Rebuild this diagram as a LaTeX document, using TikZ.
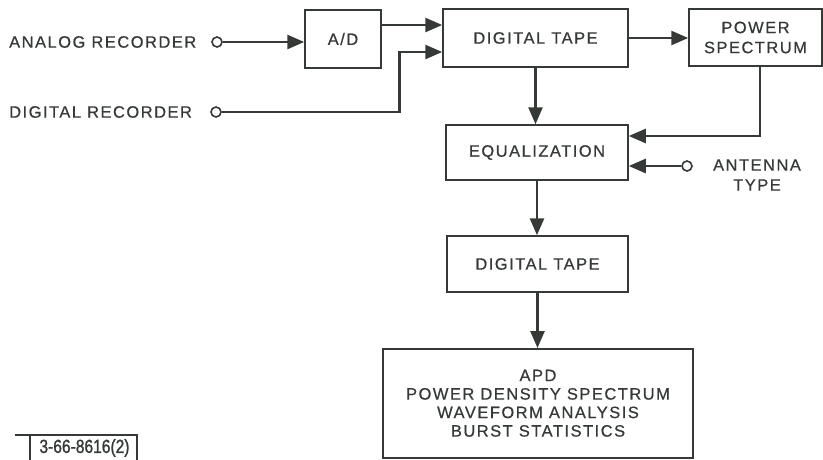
\documentclass[tikz,border=0pt]{standalone}
\usepackage{fontspec}
\setmainfont{Liberation Sans}[LetterSpace=9, FakeBold=0.6]
\newfontfamily\tagfont{Liberation Sans}[FakeStretch=0.82, FakeBold=1.2]
\usetikzlibrary{arrows.meta}
\definecolor{ink}{HTML}{353a36}
\begin{document}
\begin{tikzpicture}[x=1pt,y=-1pt,
  every node/.style={text=ink, font=\fontsize{16.5}{20}\selectfont},
  blk/.style={draw=ink, line width=1.5pt, minimum width=#1, inner sep=0pt, align=center},
  wire/.style={draw=ink, line width=2.6pt},
  arr/.style={wire, -{Triangle[length=17pt,width=14pt]}},
  term/.style={circle, draw=ink, line width=1.6pt, fill=white, minimum size=10pt, inner sep=0pt},
  lbl/.style={anchor=west, inner sep=0pt}]
\useasboundingbox (0,0) rectangle (823,459);

% blocks
\node[blk=76pt, minimum height=58pt]  (ad)  at (343,39)    {A/D};
\node[blk=185pt, minimum height=58pt] (dt1) at (535.5,38)  {DIGITAL TAPE};
\node[blk=133pt, minimum height=57pt] (ps)  at (755.5,37.5){POWER\\SPECTRUM};
\node[blk=310pt, minimum height=109pt, anchor=north,
      font=\fontsize{16.5}{18.5}\selectfont] (out) at (538,348)
  {APD\\POWER DENSITY SPECTRUM\\WAVEFORM ANALYSIS\\BURST STATISTICS};
\node[blk=182pt, minimum height=55pt] (eq)  at (537,152.5) {EQUALIZATION};
\node[blk=181pt, minimum height=56pt] (dt2) at (537.5,264) {DIGITAL TAPE};

% inputs
\node[lbl] (al) at (9,42)  {ANALOG RECORDER};
\node[lbl] (dl) at (9,112) {DIGITAL RECORDER};
\node[align=center, inner sep=0pt] (atl) at (757,175) {ANTENNA\\TYPE};
\node[term] (ac) at (217,42)  {};
\node[term] (dc) at (216,112) {};
\node[term] (tc) at (687,166) {};

% connectors
\draw[arr] (ac.east) -- (ac.east -| ad.west);
\draw[arr] ([yshift=14pt]ad.east) -- ([yshift=14pt]ad.east -| dt1.west);
\draw[arr] (dc.east) -| ([xshift=-43pt,yshift=-14pt]dt1.west) -- ([yshift=-14pt]dt1.west);
\draw[arr] (dt1.east) -- (dt1.east -| ps.west);
\draw[arr] (dt1.south) -- (dt1.south |- eq.north);
\draw[arr] ([xshift=4.5pt]ps.south) |- ([yshift=16.5pt]eq.east);
\draw[arr] (tc.west) -- (tc.west -| eq.east);
\draw[arr] (eq.south) -- (eq.south |- dt2.north);
\draw[arr] (dt2.south) -- (dt2.south |- out.north);

% drawing number tag
\coordinate (tl) at (15,435);
\coordinate (tr) at (137,435);
\draw[ink, line width=1.3pt] (tl) -- (tr) -- (137,462);
\draw[ink, line width=1.3pt] (30,435) -- (30,462);
\node[inner sep=0pt, font=\tagfont\fontsize{19}{21}\selectfont] (tag) at (84.5,448) {3-66-8616(2)};
\end{tikzpicture}
\end{document}
